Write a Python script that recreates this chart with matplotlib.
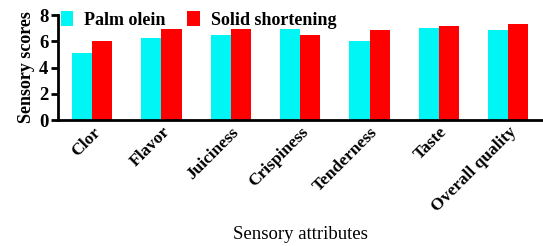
import numpy as np
import matplotlib
matplotlib.use('Agg')
import matplotlib.pyplot as plt

# Sensory scores
attributes = ['Clor', 'Flavor', 'Juiciness', 'Crispiness', 'Tenderness', 'Taste', 'Overall quality']
palm_olein = [5.1, 6.25, 6.45, 6.9, 6.05, 7.0, 6.85]
solid_shortening = [6.05, 6.9, 6.9, 6.5, 6.85, 7.2, 7.3]

plt.rcParams['font.family'] = ['Liberation Serif', 'DejaVu Serif']

fig = plt.figure(figsize=(5.43, 2.46), dpi=100)
ax = fig.add_axes([0.107, 0.512, 0.893, 0.427])

x = np.arange(len(attributes))
w = 0.29
ax.bar(x - w / 2, palm_olein, w, color='#00f5f5', label='Palm olein')
ax.bar(x + w / 2, solid_shortening, w, color='#ff0000', label='Solid shortening')

ax.set_xlim(-0.49, 6.5)
ax.set_ylim(0, 8)
ax.set_yticks([0, 2, 4, 6, 8])
ax.set_xticks(x)
ax.set_xticklabels(attributes, rotation=45, ha='right', rotation_mode='anchor',
                   fontsize=12.5, fontweight='bold')
for lab in ax.get_yticklabels():
    lab.set_fontsize(13.5)
    lab.set_fontweight('bold')

for s in ['top', 'right']:
    ax.spines[s].set_visible(False)
for s in ['left', 'bottom']:
    ax.spines[s].set_linewidth(2)
ax.tick_params(axis='y', width=2, length=5, pad=2)
ax.tick_params(axis='x', length=0, pad=3)

ax.set_ylabel('Sensory scores', fontsize=13, fontweight='bold', labelpad=3)
ax.set_xlabel('Sensory attributes', fontsize=13.5, labelpad=8)

ax.legend(loc='upper left', bbox_to_anchor=(0.082, 1.02), bbox_transform=fig.transFigure,
          ncol=2, frameon=False, handlelength=0.7, handleheight=0.85, handletextpad=0.6,
          columnspacing=1.2, prop={'size': 13, 'weight': 'bold'})

plt.savefig('out.png', dpi=100)
plt.close()
